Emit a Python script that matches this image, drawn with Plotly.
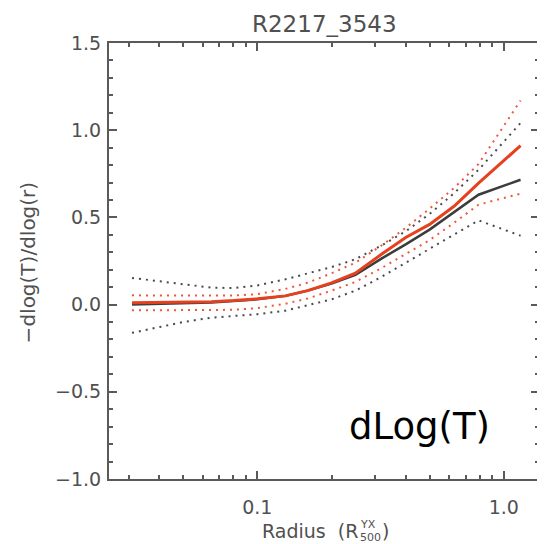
import plotly.graph_objects as go

# ---- data ----
radius = [0.031, 0.04, 0.05, 0.065, 0.08, 0.1, 0.13, 0.16, 0.2, 0.25, 0.32, 0.4, 0.5, 0.63, 0.79, 1.17]

black_mid   = [0.0, 0.003, 0.006, 0.012, 0.02, 0.03, 0.05, 0.08, 0.12, 0.17, 0.265, 0.345, 0.43, 0.53, 0.63, 0.716]
black_upper = [0.153, 0.135, 0.115, 0.097, 0.095, 0.11, 0.145, 0.18, 0.215, 0.26, 0.34, 0.42, 0.52, 0.64, 0.773, 1.041]
black_lower = [-0.162, -0.13, -0.1, -0.075, -0.065, -0.055, -0.035, -0.005, 0.03, 0.08, 0.16, 0.24, 0.32, 0.40, 0.483, 0.395]

red_mid   = [0.01, 0.011, 0.013, 0.017, 0.023, 0.033, 0.05, 0.08, 0.125, 0.18, 0.29, 0.385, 0.46, 0.565, 0.697, 0.911]
red_upper = [0.053, 0.053, 0.052, 0.05, 0.052, 0.06, 0.09, 0.125, 0.18, 0.24, 0.34, 0.44, 0.55, 0.67, 0.806, 1.17]
red_lower = [-0.033, -0.033, -0.033, -0.033, -0.03, -0.02, 0.005, 0.035, 0.08, 0.13, 0.21, 0.29, 0.37, 0.47, 0.573, 0.636]

x_major = [0.1, 1.0]
x_major_text = ["0.1", "1.0"]
x_minor = [0.03, 0.04, 0.05, 0.06, 0.07, 0.08, 0.09, 0.2, 0.3, 0.4, 0.5, 0.6, 0.7, 0.8, 0.9]
y_major = [-1.0, -0.5, 0.0, 0.5, 1.0, 1.5]
y_major_text = ["\u22121.0", "\u22120.5", "0.0", "0.5", "1.0", "1.5"]

title_text = "R2217_3543"
label_text = "dLog(T)"

BLACK = "#3c3c3c"
BLACK_DOT = "#4a4a4a"
RED = "#e5411f"
RED_DOT = "#f2553f"
AXIS = "#5a5a5a"
TXT = "#505050"
FONT = "DejaVu Sans"

fig = go.Figure()
fig.add_trace(go.Scatter(x=radius, y=black_upper, mode="lines",
                         line=dict(color=BLACK_DOT, width=2, dash="2px,5px")))
fig.add_trace(go.Scatter(x=radius, y=black_lower, mode="lines",
                         line=dict(color=BLACK_DOT, width=2, dash="2px,5px")))
fig.add_trace(go.Scatter(x=radius, y=black_mid, mode="lines",
                         line=dict(color=BLACK, width=2.5)))
fig.add_trace(go.Scatter(x=radius, y=red_upper, mode="lines",
                         line=dict(color=RED_DOT, width=2, dash="2px,5px")))
fig.add_trace(go.Scatter(x=radius, y=red_lower, mode="lines",
                         line=dict(color=RED_DOT, width=2, dash="2px,5px")))
fig.add_trace(go.Scatter(x=radius, y=red_mid, mode="lines",
                         line=dict(color=RED, width=3)))

# page body has an 8px margin, so the figure origin sits at (8, 8) on screen
OFF = 8
W, H = 545, 544
SX0, SX1, SY0, SY1 = 109, 541, 43, 479   # plot area on screen
pw, ph = SX1 - SX0, SY1 - SY0
L, T = SX0 - OFF, SY0 - OFF
R, B = W - L - pw, H - T - ph

def px(sx):
    return (sx - SX0) / pw

def py(sy):
    return (SY1 - sy) / ph

annotations = [
    dict(text=title_text, x=px(325), y=py(24), xref="paper", yref="paper",
         showarrow=False, xanchor="center", yanchor="middle",
         font=dict(family=FONT, size=23, color=TXT)),
    dict(text=label_text, x=px(421), y=py(426), xref="paper", yref="paper",
         showarrow=False, xanchor="center", yanchor="middle",
         font=dict(family=FONT, size=37, color="#000000")),
    dict(text="\u2212dlog(T)/dlog(r)", x=px(28), y=py(262), xref="paper", yref="paper",
         showarrow=False, xanchor="center", yanchor="middle", textangle=-90,
         font=dict(family=FONT, size=20, color=TXT)),
    dict(text="Radius  (R", x=px(361), y=py(531), xref="paper", yref="paper",
         showarrow=False, xanchor="right", yanchor="middle",
         font=dict(family=FONT, size=19, color=TXT)),
    dict(text="YX", x=px(359), y=py(524), xref="paper", yref="paper",
         showarrow=False, xanchor="left", yanchor="middle",
         font=dict(family=FONT, size=11, color=TXT)),
    dict(text="500", x=px(359), y=py(537), xref="paper", yref="paper",
         showarrow=False, xanchor="left", yanchor="middle",
         font=dict(family=FONT, size=11, color=TXT)),
    dict(text=")", x=px(381), y=py(531), xref="paper", yref="paper",
         showarrow=False, xanchor="left", yanchor="middle",
         font=dict(family=FONT, size=19, color=TXT)),
]

fig.update_layout(
    width=W, height=H,
    margin=dict(l=L, r=R, t=T, b=B, pad=0),
    paper_bgcolor="white", plot_bgcolor="white",
    showlegend=False,
    annotations=annotations,
    font=dict(family=FONT, color=TXT),
)

fig.update_xaxes(
    type="log", range=[-1.602, 0.143],
    tickmode="array", tickvals=x_major, ticktext=x_major_text,
    ticks="inside", ticklen=8, tickwidth=1.5, tickcolor=AXIS,
    ticklabelstandoff=10,
    minor=dict(tickmode="array", tickvals=x_minor, ticks="inside", ticklen=4,
               tickwidth=1.5, tickcolor=AXIS, showgrid=False),
    showline=True, linecolor=AXIS, linewidth=2, mirror="allticks",
    showgrid=False, zeroline=False,
    tickfont=dict(family=FONT, size=19, color=TXT),
)
fig.update_yaxes(
    range=[-1.0, 1.5],
    tickmode="array", tickvals=y_major, ticktext=y_major_text,
    ticks="inside", ticklen=8, tickwidth=1.5, tickcolor=AXIS,
    ticklabelstandoff=2,
    minor=dict(dtick=0.1, ticks="inside", ticklen=4, tickwidth=1.5,
               tickcolor=AXIS, showgrid=False),
    showline=True, linecolor=AXIS, linewidth=2, mirror="allticks",
    showgrid=False, zeroline=False,
    tickfont=dict(family=FONT, size=19, color=TXT),
)

fig.write_html("out.html")
